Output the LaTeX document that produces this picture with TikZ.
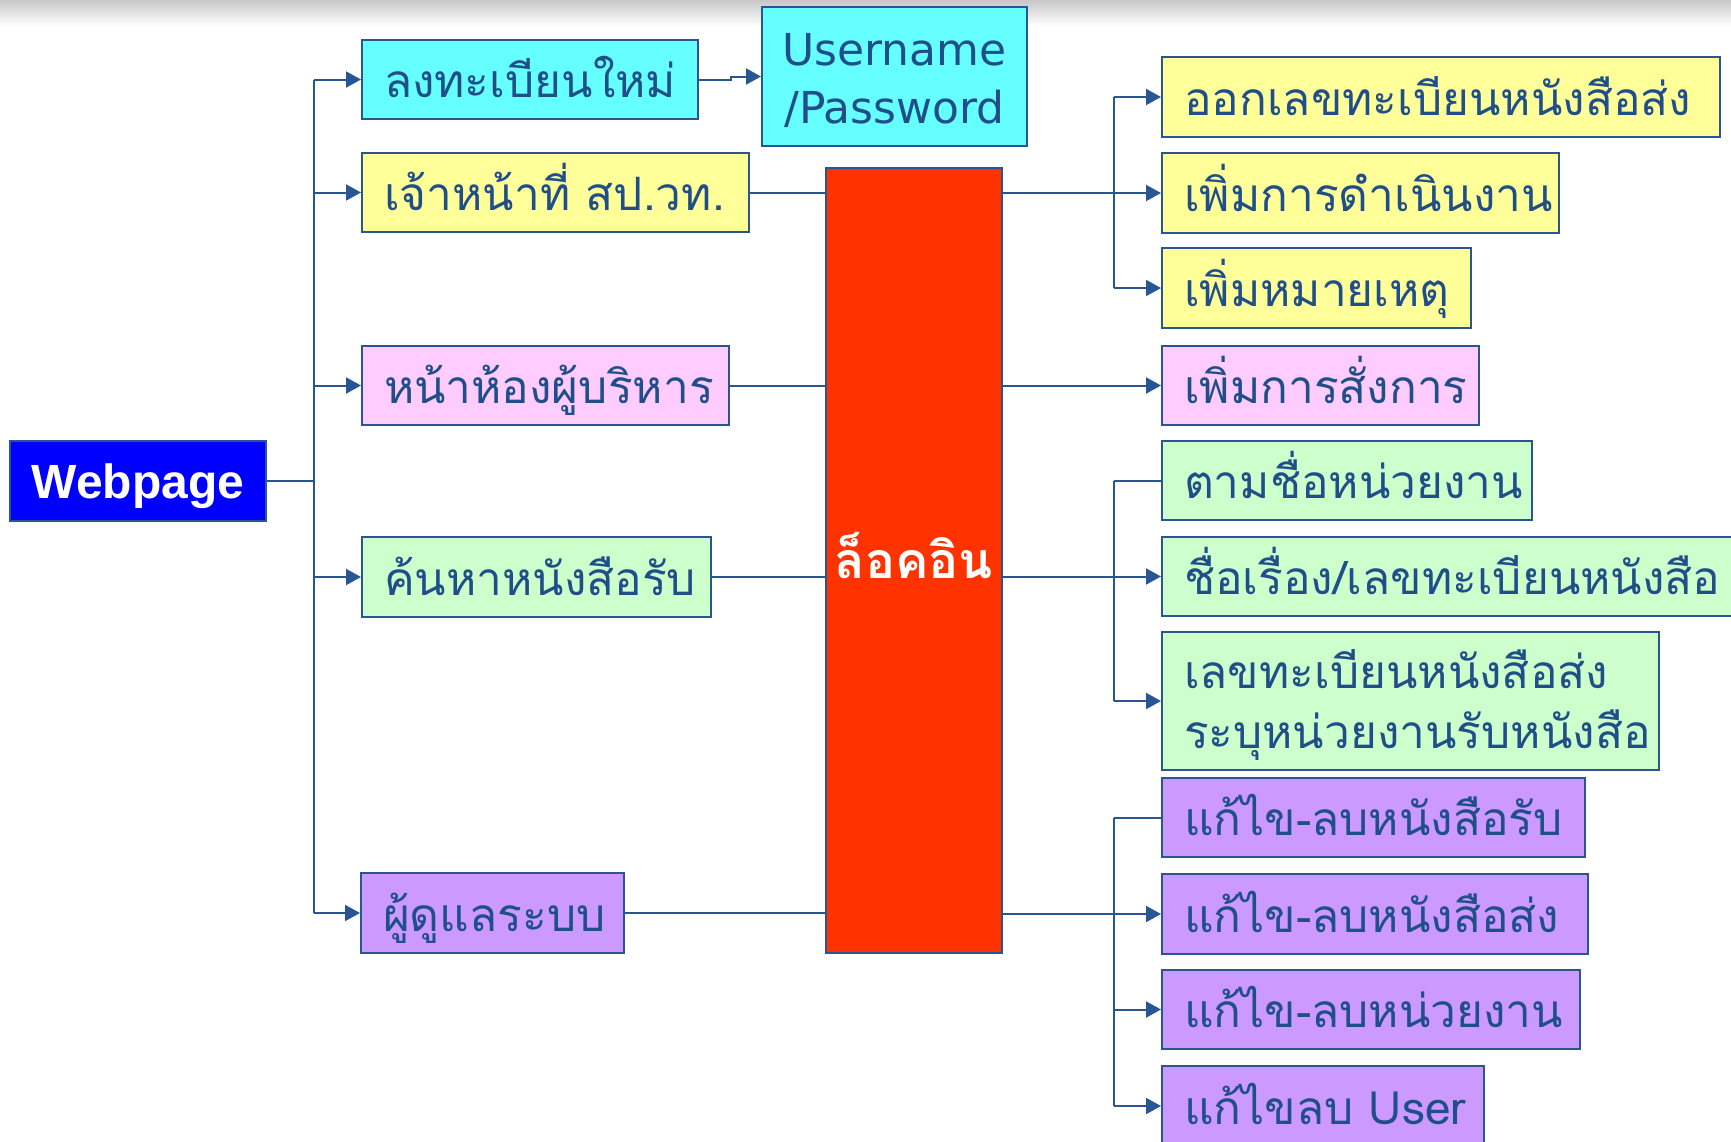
\documentclass[tikz,border=0pt]{standalone}
\usepackage{fontspec}
\setmainfont{Liberation Sans}
\newfontfamily\thai[Script=Thai]{Loma}
\newfontfamily\dvs{DejaVu Sans}
\usetikzlibrary{arrows.meta}
\exhyphenpenalty=10000
\hyphenpenalty=10000
\definecolor{txt}{RGB}{31,78,137}
\definecolor{ln}{RGB}{40,86,148}
\definecolor{bdr}{RGB}{44,84,146}
\definecolor{cyanf}{HTML}{66FFFF}
\definecolor{yelf}{HTML}{FFFF99}
\definecolor{pinkf}{HTML}{FFCCFF}
\definecolor{grnf}{HTML}{CCFFCC}
\definecolor{purf}{HTML}{CC99FF}
\definecolor{redf}{HTML}{FF3300}
\definecolor{bluef}{HTML}{0000FF}
\tikzset{
  bx/.style={draw=bdr, line width=2pt, inner xsep=22pt, inner ysep=0pt, align=left,
    font=\thai\fontsize{46pt}{60pt}\selectfont, text=txt, text height=36pt, text depth=0pt},
  conn/.style={draw=ln, line width=2pt},
  arr/.style={conn, -{Triangle[length=15pt,width=16pt]}},
}
\begin{document}
\begin{tikzpicture}[x=1pt,y=-1pt]
\useasboundingbox (0,0) rectangle (1731,1141);
\clip (0,0) rectangle (1731,1141);
\shade[top color=black!22, bottom color=white] (0,0) rectangle (1731,26);

% left column
\node[draw=bdr, line width=2pt, fill=bluef, text=white, font=\fontsize{48pt}{58pt}\selectfont\bfseries,
  minimum width=256pt, minimum height=80pt, inner sep=0pt, text height=34pt, text depth=0pt] (web) at (138,481) {Webpage};
\node[bx, fill=cyanf, minimum height=79pt, text width=292pt] (reg) at (530,79.5) {\mbox{ลงทะเบียนใหม่}};
\node[bx, fill=yelf, minimum height=79pt, text width=343pt] (staff) at (555.5,192.5) {\mbox{เจ้าหน้าที่ สป.วท.}};
\node[bx, fill=pinkf, minimum height=79pt, text width=323pt] (exec) at (545.5,385.5) {\mbox{หน้าห้องผู้บริหาร}};
\node[bx, fill=grnf, minimum height=80pt, text width=305pt] (search) at (536.5,577) {\mbox{ค้นหาหนังสือรับ}};
\node[bx, fill=purf, minimum height=80pt, text width=219pt] (admin) at (492.5,913) {\mbox{ผู้ดูแลระบบ}};

\node[draw=bdr, line width=2pt, fill=cyanf, text=txt, align=center, font=\dvs\fontsize{44pt}{58pt}\selectfont,
  minimum width=265pt, minimum height=139pt, inner sep=0pt, text height=93pt, text depth=0pt] (user) at (894.5,76.5) {Username\\/Password};

\node[draw=bdr, line width=2pt, fill=redf, text=white, font=\thai\fontsize{50pt}{60pt}\selectfont\bfseries,
  minimum width=176pt, minimum height=785pt, inner sep=0pt, text height=36pt, text depth=0pt] (login) at (914,560.5) {ล็อคอิน};

% right column
\node[bx, fill=yelf, minimum height=80pt, text width=514pt] (r1) at (1441,97) {\mbox{ออกเลขทะเบียนหนังสือส่ง}};
\node[bx, fill=yelf, minimum height=80pt, text width=353pt] (r2) at (1360.5,193) {\mbox{เพิ่มการดำเนินงาน}};
\node[bx, fill=yelf, minimum height=80pt, text width=265pt] (r3) at (1316.5,288) {\mbox{เพิ่มหมายเหตุ}};
\node[bx, fill=pinkf, minimum height=79pt, text width=273pt] (r4) at (1320.5,385.5) {\mbox{เพิ่มการสั่งการ}};
\node[bx, fill=grnf, minimum height=79pt, text width=326pt] (g1) at (1347,480.5) {\mbox{ตามชื่อหน่วยงาน}};
\node[bx, fill=grnf, minimum height=79pt, text width=554pt] (g2) at (1461,576.5) {\mbox{ชื่อเรื่อง/เลขทะเบียนหนังสือ}};
\node[bx, fill=grnf, minimum height=138pt, text width=453pt, text height=36pt, text depth=62pt] (g3) at (1410.5,701) {\mbox{เลขทะเบียนหนังสือส่ง}\\\mbox{ระบุหน่วยงานรับหนังสือ}};
\node[bx, fill=purf, minimum height=79pt, text width=379pt] (p1) at (1373.5,817.5) {\mbox{แก้ไข-ลบหนังสือรับ}};
\node[bx, fill=purf, minimum height=80pt, text width=382pt] (p2) at (1375,914) {\mbox{แก้ไข-ลบหนังสือส่ง}};
\node[bx, fill=purf, minimum height=79pt, text width=374pt] (p3) at (1371,1009.5) {\mbox{แก้ไข-ลบหน่วยงาน}};
\node[bx, fill=purf, minimum height=80pt, text width=278pt] (p4) at (1323,1106) {\mbox{แก้ไขลบ User}};

\coordinate (lt) at (314,0);
\coordinate (rt) at (1114,0);

% left connectors
\draw[conn] (web.east) -- (web.east -| lt);
\draw[conn] (lt |- reg.west) -- (lt |- admin.west);
\foreach \n in {reg,staff,exec,search,admin} \draw[arr] (lt |- \n.west) -- (\n.west);
\draw[arr] (reg.east) -- ++(32,0) |- (user.west);
\foreach \n in {staff,exec,search,admin} \draw[conn] (\n.east) -- (\n.east -| login.west);

% right connectors
\draw[arr] (login.east |- r2.west) -- (r2.west);
\draw[conn] (rt |- r1.west) -- (rt |- r3.west);
\draw[arr] (rt |- r1.west) -- (r1.west);
\draw[arr] (rt |- r3.west) -- (r3.west);
\draw[arr] (login.east |- r4.west) -- (r4.west);
\draw[arr] (login.east |- g2.west) -- (g2.west);
\draw[conn] (rt |- g1.west) -- (rt |- g3.west);
\draw[conn] (rt |- g1.west) -- (g1.west);
\draw[arr] (rt |- g3.west) -- (g3.west);
\draw[arr] (login.east |- p2.west) -- (p2.west);
\draw[conn] (rt |- p1.west) -- (rt |- p4.west);
\draw[conn] (rt |- p1.west) -- (p1.west);
\draw[arr] (rt |- p3.west) -- (p3.west);
\draw[arr] (rt |- p4.west) -- (p4.west);
\end{tikzpicture}
\end{document}
